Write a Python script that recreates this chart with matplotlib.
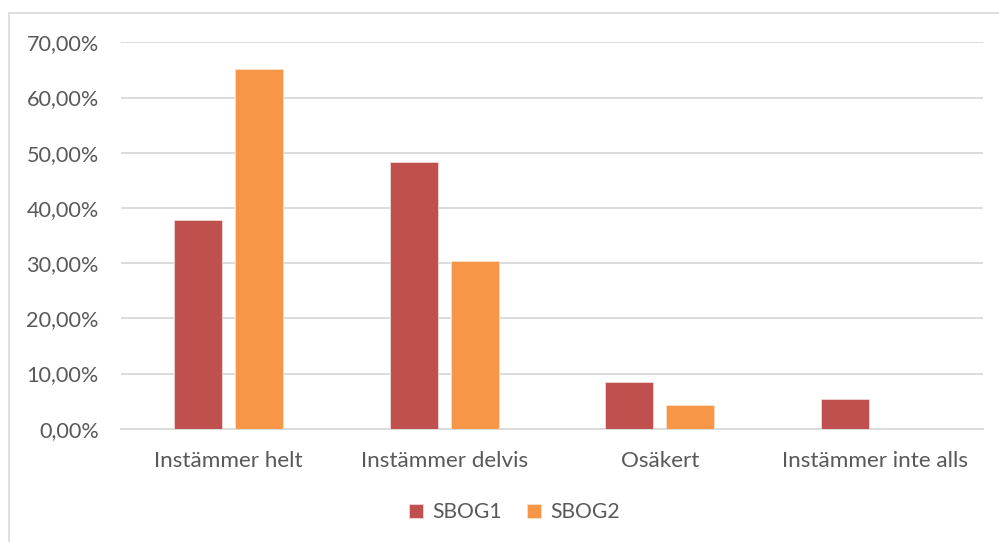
import matplotlib.pyplot as plt
import numpy as np
from matplotlib.patches import Rectangle
from matplotlib.ticker import FuncFormatter

kategorier = ['Instämmer helt', 'Instämmer delvis', 'Osäkert', 'Instämmer inte alls']
sbog1 = [0.379, 0.484, 0.085, 0.053]
sbog2 = [0.651, 0.304, 0.043, 0.0]
serier = ['SBOG1', 'SBOG2']
farger = ['#C0504D', '#F79646']

plt.rcParams['font.family'] = ['Lato', 'DejaVu Sans']
textfarg = '#595959'

fig = plt.figure(figsize=(9.99, 5.42), dpi=100)
ax = fig.add_axes([121 / 999, 1 - 428.7 / 542, (983 - 121) / 999, (428.7 - 42.4) / 542])

# ram runt hela diagramområdet
fig.patches.append(Rectangle((9 / 999, -0.05), 1.1, 1 - 13 / 542 + 0.05,
                             transform=fig.transFigure, fill=False,
                             edgecolor='#d9d9d9', linewidth=1.2))

x = np.arange(len(kategorier))
bredd = 0.223
avstand = 0.06
ax.bar(x - (bredd + avstand) / 2, sbog1, bredd, color=farger[0], label=serier[0],
       edgecolor='#f3d6d5', linewidth=0.6, zorder=3)
ax.bar(x + (bredd + avstand) / 2, sbog2, bredd, color=farger[1], label=serier[1],
       edgecolor='#fbe0c8', linewidth=0.6, zorder=3)

ax.set_xlim(-0.5, len(kategorier) - 0.5)
ax.set_ylim(0, 0.7)
ax.set_yticks(np.arange(0, 0.71, 0.1))
ax.yaxis.set_major_formatter(FuncFormatter(lambda v, p: f'{v * 100:.2f}%'.replace('.', ',')))
ax.set_xticks(x)
ax.set_xticklabels(kategorier)

ax.grid(axis='y', color='#d9d9d9', linewidth=1.3, zorder=0)
for s in ['top', 'right', 'left']:
    ax.spines[s].set_visible(False)
ax.spines['bottom'].set_color('#d9d9d9')
ax.spines['bottom'].set_linewidth(1.3)
ax.tick_params(axis='both', length=0, colors=textfarg)
ax.tick_params(axis='y', pad=16, labelsize=15.6)
ax.tick_params(axis='x', pad=16, labelsize=16.2)

leg = fig.legend(loc='center', bbox_to_anchor=(514.5 / 999, 1 - 512 / 542), ncol=2,
                 frameon=False, fontsize=15.2, handlelength=0.65, handleheight=0.65,
                 handletextpad=0.45, columnspacing=1.2)
for t in leg.get_texts():
    t.set_color(textfarg)

fig.savefig('out.png', dpi=100)
plt.close()
